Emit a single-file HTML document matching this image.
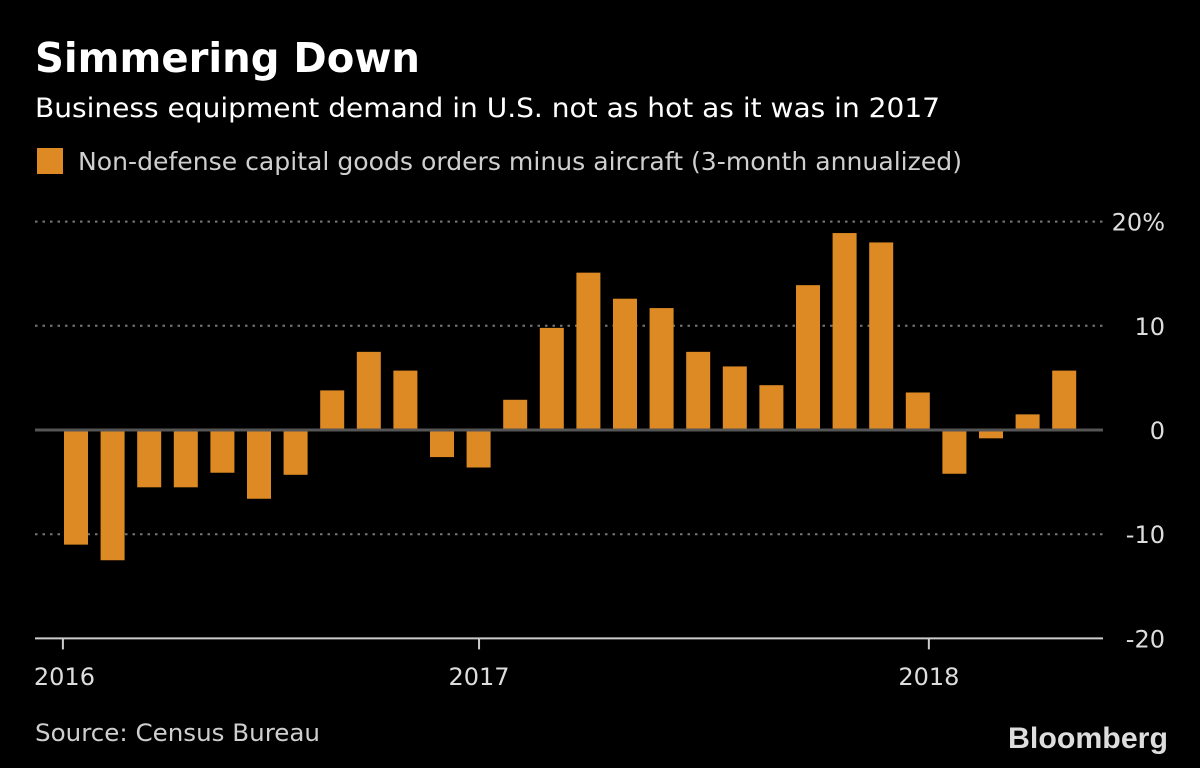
<!DOCTYPE html>
<html><head><meta charset="utf-8"><style>
html,body{margin:0;padding:0;background:#000;}
svg{display:block;font-family:"DejaVu Sans","Liberation Sans",sans-serif;}
</style></head><body>
<svg id="chart" width="1200" height="768" viewBox="0 0 1200 768">
<rect width="1200" height="768" fill="#000"/>
<text x="35" y="72" font-size="41" font-weight="bold" fill="#fff" textLength="385" lengthAdjust="spacingAndGlyphs">Simmering Down</text>
<text x="35" y="117" font-size="27" fill="#fff" textLength="905" lengthAdjust="spacingAndGlyphs">Business equipment demand in U.S. not as hot as it was in 2017</text>
<rect x="37" y="148" width="26" height="26" fill="#dd8a25"/>
<text x="78" y="170" font-size="25" fill="#cfcfcf" textLength="884" lengthAdjust="spacingAndGlyphs">Non-defense capital goods orders minus aircraft (3-month annualized)</text>
<g id="grid"></g>
<g id="bars"></g>
<g id="axes"></g>
<text x="35" y="741" font-size="24" fill="#cfcfcf" textLength="285" lengthAdjust="spacingAndGlyphs">Source: Census Bureau</text>
<text x="1168" y="748" font-size="30" font-weight="bold" fill="#ddd" text-anchor="end" font-family="Liberation Sans, sans-serif" textLength="160" lengthAdjust="spacingAndGlyphs">Bloomberg</text>
</svg>
<script>
const values=[-11,-12.5,-5.5,-5.5,-4.1,-6.6,-4.3,3.8,7.5,5.7,-2.6,-3.6,2.9,9.8,15.1,12.6,11.7,7.5,6.1,4.3,13.9,18.9,18,3.6,-4.2,-0.8,1.5,5.7];
const yTicks=[20,10,0,-10,-20];
const yTickLabels=["20%","10","0","-10","-20"];
const xTickLabels=["2016","2017","2018"];
const xTickPos=[-0.03,11.34,23.63];
const NS="http://www.w3.org/2000/svg";
function y(v){return 430-v*10.42;}
function x(i){return 64+i*36.6;}
function mk(t,a,p){const e=document.createElementNS(NS,t);for(const k in a)e.setAttribute(k,a[k]);p.appendChild(e);return e;}
const grid=document.getElementById('grid'),bars=document.getElementById('bars'),axes=document.getElementById('axes');
yTicks.forEach((v,i)=>{
  if(v!==0&&v!==-20){const l=mk('line',{x1:35,x2:1103,y1:y(v),y2:y(v),stroke:'#777','stroke-width':2,'stroke-dasharray':'2.5 5'},grid);
  
  }
  const t=mk('text',{x:1165,y:y(v)+9,'font-size':24,fill:'#ddd','text-anchor':'end'},axes);
  t.textContent=yTickLabels[i];
  
  
});
values.forEach((v,i)=>{
  const r=mk('rect',{x:x(i),width:24,y:Math.min(y(v),y(0)),height:Math.abs(y(v)-y(0)),fill:'#dd8a25'},bars);
  
  
});
const z=mk('line',{x1:35,x2:1103,y1:y(0),y2:y(0),stroke:'#555','stroke-width':3},axes);


const ax=mk('line',{x1:35,x2:1103,y1:y(-20),y2:y(-20),stroke:'#ccc','stroke-width':2},axes);


xTickLabels.forEach((s,i)=>{
  const px=x(xTickPos[i]);
  const tk=mk('line',{x1:px,x2:px,y1:y(-20),y2:y(-20)+11,stroke:'#ccc','stroke-width':2},axes);
  
  
  const t=mk('text',{x:px,y:685,'font-size':24,fill:'#ddd','text-anchor':i===0?'start':'middle'},axes);
  if(i===0)t.setAttribute('x',px-29);
  t.textContent=s;
  
  
});
</script>
</body></html>
